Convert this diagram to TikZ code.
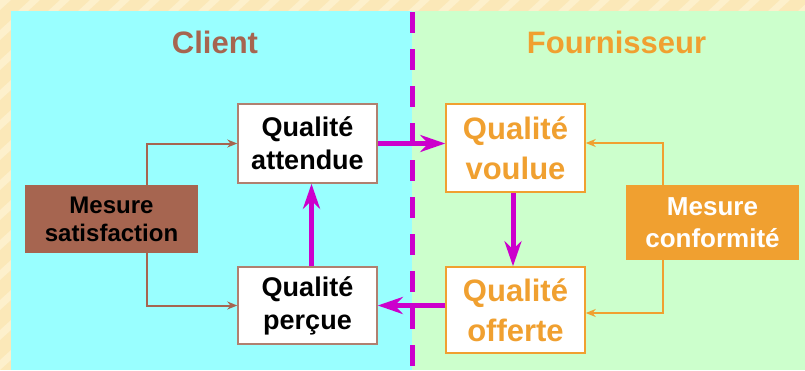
\documentclass[tikz,border=0pt]{standalone}
\usepackage{fontspec}
\setmainfont{Liberation Sans}
\usetikzlibrary{arrows.meta,calc}
\definecolor{cream}{HTML}{FBE8B8}
\definecolor{creamlight}{HTML}{FDF0CC}
\definecolor{cyanbg}{HTML}{99FFFF}
\definecolor{greenbg}{HTML}{CCFFCC}
\definecolor{brownc}{HTML}{A66550}
\definecolor{brownbd}{HTML}{B08070}
\definecolor{orangec}{HTML}{F0A030}
\definecolor{magc}{HTML}{CC00CC}
\begin{document}
\begin{tikzpicture}[x=1pt,y=-1pt,
  qbox/.style={draw, line width=1.5pt, fill=white, inner sep=0pt, align=center, font=\bfseries},
  cbox/.style={qbox, draw=brownbd, text=black, minimum width=139pt, font=\bfseries\fontsize{27}{33}\selectfont},
  fbox/.style={qbox, draw=orangec, text=orangec, minimum width=139pt, font=\bfseries\fontsize{31}{40}\selectfont},
  mbox/.style={inner sep=0pt, align=center, minimum width=173pt},
  thinbrown/.style={draw=brownc, line width=2pt, -{Stealth[length=10pt,width=8pt]}},
  thinorange/.style={draw=orangec, line width=2pt, -{Stealth[length=10pt,width=8pt]}},
  magarrow/.style={draw=magc, line width=5pt, -{Stealth[length=25pt,width=17pt,inset=8pt]}},
  title/.style={anchor=base, font=\bfseries\fontsize{31}{37}\selectfont}
]
\useasboundingbox (0,0) rectangle (805,370);
% background
\fill[cream] (0,0) rectangle (805,370);
\foreach \i in {0,30,...,840} {
  \fill[creamlight] (\i,0) -- (\i+10,0) -- (\i-2,11) -- (\i-12,11) -- cycle;
}
\foreach \j in {0,30,...,380} {
  \fill[creamlight] (0,\j) -- (11,\j-10) -- (11,\j) -- (0,\j+10) -- cycle;
}
\fill[cyanbg] (11,11) rectangle (412,370);
\fill[greenbg] (412,11) rectangle (805,370);
% divider
\draw[magc, line width=5pt, dash pattern=on 21pt off 16pt] (412,12) -- (412,370);
% titles
\node[title, text=brownc] (tclient) at (215,53) {Client};
\node[title, text=orangec] (tfour) at (616.5,53) {Fournisseur};
% boxes
\node[cbox, minimum height=79pt] (att) at (307.5,143.5) {Qualité\\attendue};
\node[cbox, minimum height=77pt] (per) at (307.5,305.5) {Qualité\\perçue};
\node[fbox, minimum height=88pt] (vou) at (515.5,148) {Qualité\\voulue};
\node[fbox, minimum height=86pt] (off) at (515.5,310) {Qualité\\offerte};
\node[mbox, fill=brownc, text=black, minimum height=68pt, font=\bfseries\fontsize{24}{28}\selectfont] (sat) at (111.5,219) {Mesure\\satisfaction};
\node[mbox, fill=orangec, text=white, minimum height=75pt, font=\bfseries\fontsize{26}{32}\selectfont] (conf) at (712.5,222.5) {Mesure\\conformité};
% thin connectors
\draw[thinbrown] ([xshift=35.5pt]sat.north) |- (att.west);
\draw[thinbrown] ([xshift=35.5pt]sat.south) |- (per.west);
\draw[thinorange] ([xshift=-49.5pt]conf.north) |- ([yshift=5pt]vou.east);
\draw[thinorange] ([xshift=-49.5pt]conf.south) |- ([yshift=-3pt]off.east);
% magenta flow
\draw[magarrow] (att.east) -- (att.east -| vou.west);
\draw[magarrow] ([xshift=-2.5pt]vou.south) -- ([xshift=-2.5pt]off.north);
\draw[magarrow] (off.west |- per.east) -- (per.east);
\draw[magarrow] ([xshift=4pt]per.north) -- ([xshift=4pt]att.south);
\end{tikzpicture}
\end{document}
